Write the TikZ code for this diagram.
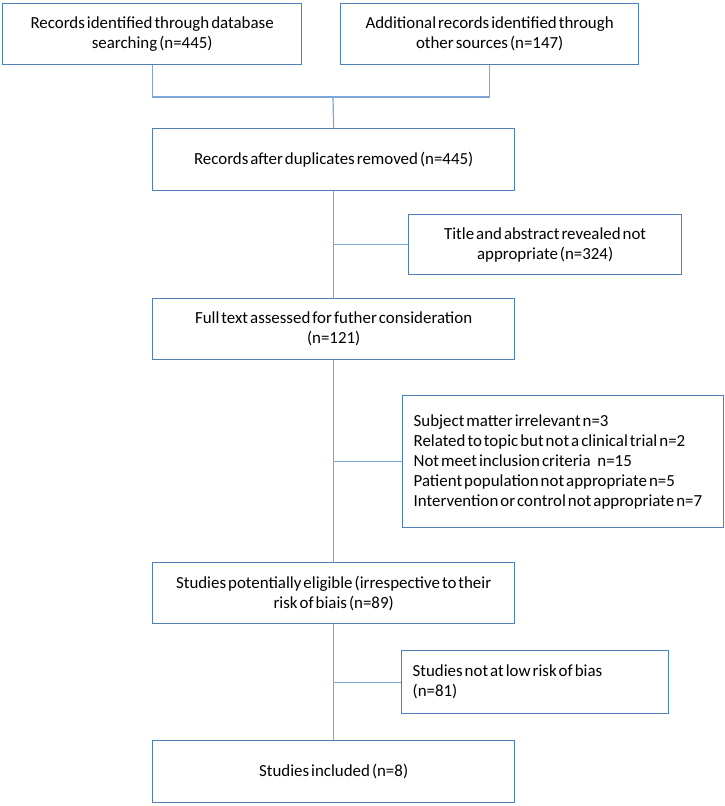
\documentclass[tikz,border=0pt]{standalone}
\usepackage{fontspec}
\setmainfont{Carlito}
\definecolor{boxblue}{HTML}{4F7FBA}
\definecolor{lineblue}{HTML}{7DA7D9}
\newcommand{\tightsp}{\spaceskip=0.12em plus 0.04em minus 0.02em\relax}
\newcommand{\boxfont}{\fontsize{16.9}{20}\selectfont\tightsp}
\begin{document}
\begin{tikzpicture}[x=1pt,y=-1pt,
  box/.style={draw=boxblue, line width=1.3pt, fill=white, inner sep=0pt, anchor=north west,
    font=\boxfont, align=center},
  lbox/.style={box, align=flush left, inner xsep=11pt},
  conn/.style={draw=lineblue, line width=1.2pt}]
\useasboundingbox (0,0) rectangle (725,806);
\node[box, minimum width=299pt, minimum height=61pt] (b1) at (2,3) {Records identified through database\\searching (n=445)};
\node[box, minimum width=298pt, minimum height=61pt] (b2) at (340,3) {Additional records identified through\\other sources (n=147)};
\node[box, minimum width=362pt, minimum height=62pt] (b3) at (152,128) {Records after duplicates removed (n=445)};
\node[box, minimum width=273pt, minimum height=60pt] (b4) at (408,214) {Title and abstract revealed not\\appropriate (n=324)};
\node[box, minimum width=362pt, minimum height=61pt] (b5) at (152,298) {Full text assessed for futher consideration\\(n=121)};
\node[lbox, text width=299pt, minimum height=132pt] (b6) at (402,395) {\tightsp\mbox{Subject matter irrelevant n=3}\\\mbox{Related to topic but not a clinical trial n=2}\\\mbox{Not meet inclusion criteria\hspace{0.4em}n=15}\\\mbox{Patient population not appropriate n=5}\\\mbox{Intervention or control not appropriate n=7}};
\node[box, minimum width=362pt, minimum height=61pt] (b7) at (152,562) {Studies potentially eligible (irrespective to their\\risk of biais (n=89)};
\node[lbox, text width=245pt, minimum height=63pt] (b8) at (401,650) {\tightsp Studies not at low risk of bias\\(n=81)};
\node[box, minimum width=362pt, minimum height=62pt] (b9) at (152,740) {Studies included (n=8)};
\coordinate (j) at (333,97);
\draw[conn] (b1.south) |- (j) -| (b2.south);
\draw[conn] (j) -- (b3.north);
\draw[conn] (b3.south) -- (b5.north);
\draw[conn] (b3.south |- b4.west) -- (b4.west);
\draw[conn] (b5.south) -- (b7.north);
\draw[conn] (b5.south |- b6.west) -- (b6.west);
\draw[conn] (b7.south) -- (b9.north);
\draw[conn] (b7.south |- b8.west) -- (b8.west);
\end{tikzpicture}
\end{document}
